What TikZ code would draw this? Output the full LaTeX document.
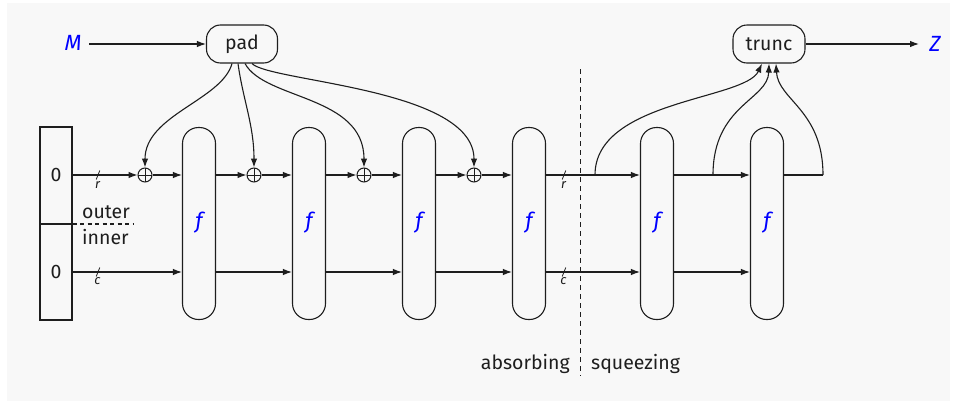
\documentclass[tikz,border=0pt]{standalone}
\usepackage{fontspec}
\setmainfont{Fira Sans}
\usetikzlibrary{arrows.meta}
\definecolor{bgcol}{HTML}{F8F8F8}
\definecolor{ln}{HTML}{1E1E1E}
\begin{document}
\begin{tikzpicture}[x=1pt,y=-1pt,
  every node/.style={font=\fontsize{19.5}{22}\selectfont, text=ln},
  wire/.style={draw=ln, line width=1.1pt},
  arr/.style={wire, -{Latex[length=9pt,width=6.5pt]}},
  fbox/.style={draw=ln, line width=1.1pt, rounded corners=16pt, minimum width=33pt, minimum height=192pt, inner sep=0pt},
  rbox/.style={draw=ln, line width=1.1pt, rounded corners=14pt, minimum width=71pt, minimum height=38pt, inner sep=0pt},
  xorc/.style={draw=ln, line width=1pt, circle, minimum size=14pt, inner sep=0pt,
    path picture={\draw[ln, line width=0.9pt] (path picture bounding box.north) -- (path picture bounding box.south)
      (path picture bounding box.west) -- (path picture bounding box.east);}},
  bluetext/.style={text=blue, font=\fontsize{22}{26}\selectfont\itshape},
  sub/.style={font=\fontsize{13}{15}\selectfont\itshape, inner sep=0pt},
  slash/.style={draw=ln, line width=0.8pt}
]
\useasboundingbox (0,0) rectangle (955,407);
\fill[white] (0,0) rectangle (955,407);
\fill[bgcol] (7,3) rectangle (950,401);

% top nodes
\node[bluetext] (M) at (73,43) {M};
\node[rbox] (pad) at (242,44) {pad};
\node[rbox, minimum width=72pt] (trunc) at (769,44) {trunc};
\node[bluetext] (Z) at (935,44) {Z};
\coordinate (mstart) at (89,44);
\coordinate (zend) at (919,44);
\draw[arr] (mstart) -- (pad.west);
\draw[arr] (trunc.east) -- (zend);

% state box
\node[draw=ln, line width=1.1pt, minimum width=32pt, minimum height=193pt, inner sep=0pt] (st) at (56,223.5) {};
\node (z1) at (56,175) {0};
\node (z2) at (56,272) {0};
\draw[wire] (st.west |- 0,224) -- (st.east |- 0,224);
\draw[wire, dash pattern=on 4pt off 3.5pt] (st.east |- 0,224) -- (134,224);
\node[anchor=west, inner sep=0pt] (outer) at (82,212) {outer};
\node[anchor=west, inner sep=0pt] (inner) at (82,237) {inner};

% f boxes
\foreach \i/\x in {1/199,2/309,3/419,4/529,5/657,6/767}{
  \node[fbox] (f\i) at (\x,223.5) {};
  \node[bluetext] (fl\i) at (\x,223) {f};
}
% xor
\foreach \i/\x in {1/145,2/254,3/364,4/474}{
  \node[xorc] (x\i) at (\x,175) {};
}

% top wires
\draw[arr] (st.east |- 0,175) -- (x1.west);
\draw[arr] (x1.east) -- (f1.west |- 0,175);
\draw[arr] (f1.east |- 0,175) -- (x2.west);
\draw[arr] (x2.east) -- (f2.west |- 0,175);
\draw[arr] (f2.east |- 0,175) -- (x3.west);
\draw[arr] (x3.east) -- (f3.west |- 0,175);
\draw[arr] (f3.east |- 0,175) -- (x4.west);
\draw[arr] (x4.east) -- (f4.west |- 0,175);
\draw[arr] (f4.east |- 0,175) -- (f5.west |- 0,175);
\draw[arr] (f5.east |- 0,175) -- (f6.west |- 0,175);
\coordinate (tend) at (823,175);
\draw[wire] (f6.east |- 0,175) -- (tend);

% bottom wires
\draw[arr] (st.east |- 0,272) -- (f1.west |- 0,272);
\draw[arr] (f1.east |- 0,272) -- (f2.west |- 0,272);
\draw[arr] (f2.east |- 0,272) -- (f3.west |- 0,272);
\draw[arr] (f3.east |- 0,272) -- (f4.west |- 0,272);
\draw[arr] (f4.east |- 0,272) -- (f5.west |- 0,272);
\draw[arr] (f5.east |- 0,272) -- (f6.west |- 0,272);

% slash markers
\foreach \x/\y/\l in {98/175/r,98/272/c,564/175/r,564/272/c}{
  \draw[slash] (\x-1.8,\y+4.5) -- (\x+1.8,\y-4.5);
  \node[sub] at (\x-0.5,\y+9.5) {\l};
}

% pad to xors
\draw[arr] ([xshift=-10pt]pad.south) .. controls (222,100) and (145,115) .. (x1.north);
\draw[arr] ([xshift=-4pt]pad.south) .. controls (243,100) and (254,125) .. (x2.north);
\draw[arr] ([xshift=3pt]pad.south) .. controls (265,100) and (364,95) .. (x3.north);
\draw[arr] ([xshift=10pt]pad.south) .. controls (270,82) and (474,88) .. (x4.north);

% squeeze to trunc
\coordinate (s1) at (595,175);
\coordinate (s2) at (713,175);
\draw[arr] (s1) .. controls (595,100) and (745,100) .. ([xshift=-7pt]trunc.south);
\draw[arr] (s2) .. controls (713,105) and (768,100) .. (trunc.south);
\draw[arr] (tend) .. controls (823,110) and (778,100) .. ([xshift=7pt]trunc.south);

% phase separator
\coordinate (dtop) at (580.5,69);
\coordinate (dbot) at (580.5,376);
\draw[wire, dash pattern=on 5pt off 4pt] (dtop) -- (dbot);
\node[anchor=east, inner sep=0pt] (absorb) at (570,364) {absorbing};
\node[anchor=west, inner sep=0pt] (squeeze) at (591,364) {squeezing};
\end{tikzpicture}
\end{document}
